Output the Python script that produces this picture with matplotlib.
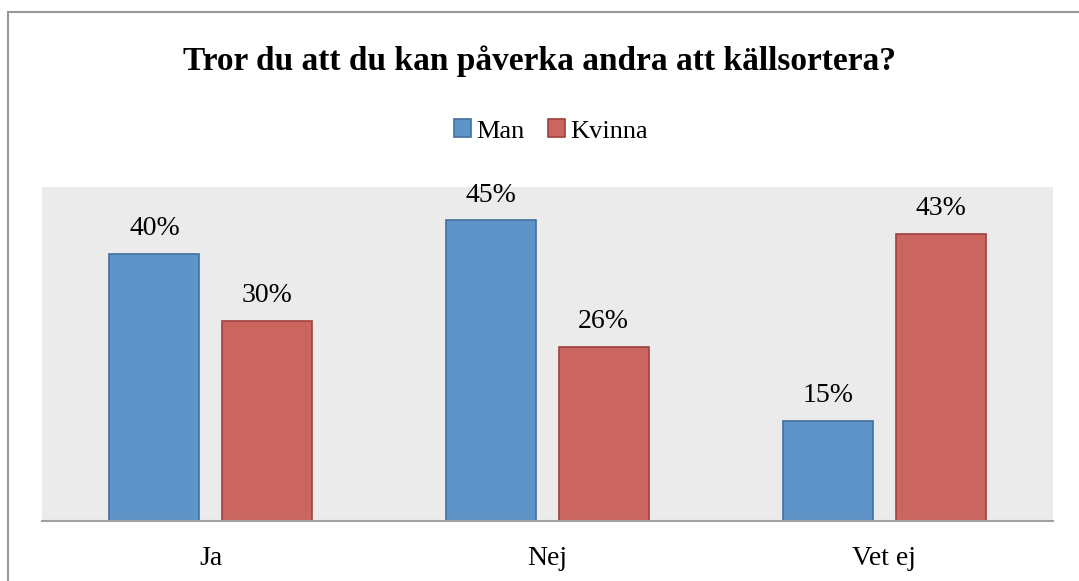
import numpy as np
import matplotlib.pyplot as plt
from matplotlib.patches import Rectangle

categories = ['Ja', 'Nej', 'Vet ej']
man = [40, 45, 15]
kvinna = [30, 26, 43]
series_names = ['Man', 'Kvinna']
title = 'Tror du att du kan påverka andra att källsortera?'

blue = '#5F94C9'
blue_edge = '#41709E'
red = '#CB6560'
red_edge = '#A0403D'

fig = plt.figure(figsize=(10.79, 5.81), dpi=100)
ax = fig.add_axes([42/1079, 1 - 521/581, (1053-42)/1079, (521-187)/581])
ax.set_facecolor('#EBEBEB')

x = np.arange(len(categories))
w = 0.267
off = 0.1665
b1 = ax.bar(x - off, man, w, color=blue, edgecolor=blue_edge, linewidth=1.2, label=series_names[0])
b2 = ax.bar(x + off, kvinna, w, color=red, edgecolor=red_edge, linewidth=1.2, label=series_names[1])

for bars, vals in [(b1, man), (b2, kvinna)]:
    for b, v in zip(bars, vals):
        ax.text(b.get_x() + b.get_width()/2, v + 3.8, f'{v}%', ha='center', va='center',
                fontsize=20, family='Liberation Serif', color='black')

ax.set_xlim(-0.5, 2.5)
ax.set_ylim(0, 50)
ax.set_yticks([])
ax.set_xticks(x)
ax.set_xticklabels(categories, fontsize=20, family='Liberation Serif')
ax.tick_params(axis='x', length=0, pad=18)
for s in ['top', 'right', 'left']:
    ax.spines[s].set_visible(False)
ax.spines['bottom'].set_color('#A0A0A0')
ax.spines['bottom'].set_linewidth(1.5)

fig.text(0.5, 1 - 61/581, title, ha='center', va='center', fontsize=24,
         fontweight='bold', family='Liberation Serif')

leg = fig.legend(loc='center', bbox_to_anchor=(551/1079, 1 - 131/581), ncol=2, frameon=False,
                 prop={'family': 'Liberation Serif', 'size': 19}, handlelength=0.65,
                 handleheight=0.65, handletextpad=0.2, columnspacing=0.9)

# outer chart border (partly cropped)
fig.patches.append(Rectangle((8/1079, -0.1), 1.2, 1 - 12/581 + 0.1, transform=fig.transFigure,
                             fill=False, edgecolor='#999999', linewidth=1.5))

fig.savefig('out.png', dpi=100)
